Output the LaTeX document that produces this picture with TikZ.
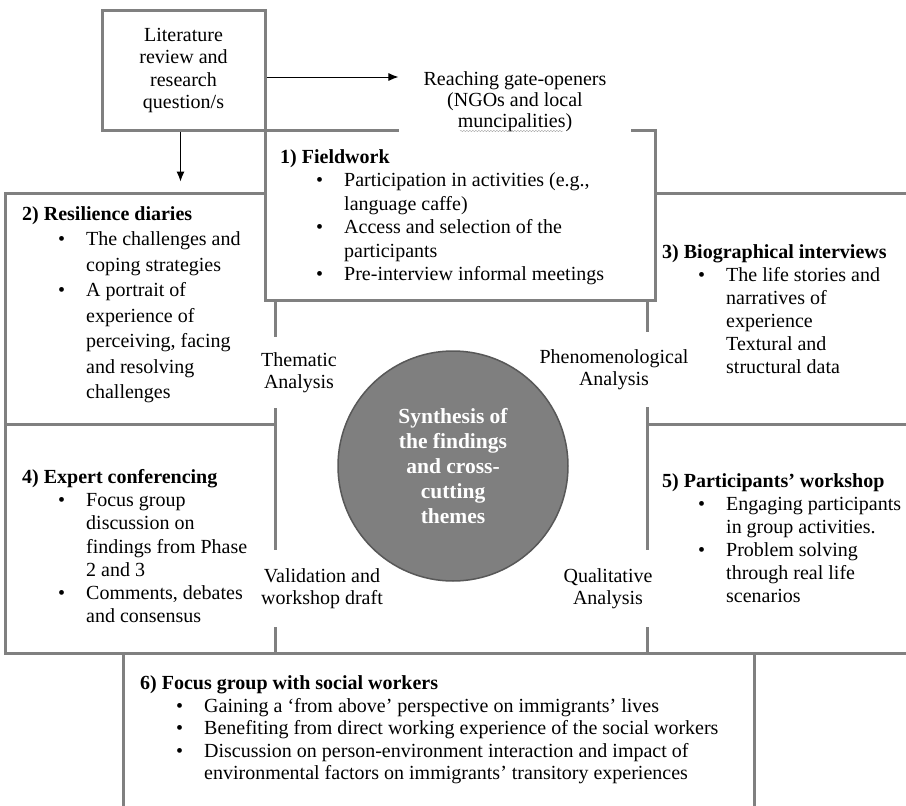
\documentclass[tikz,border=0pt]{standalone}
\usepackage{fontspec}
\setmainfont{Liberation Serif}
\usetikzlibrary{arrows.meta}
\usetikzlibrary{decorations.pathmorphing}
\definecolor{lgray}{RGB}{128,128,128}
\definecolor{cfill}{RGB}{127,127,127}
\definecolor{cedge}{RGB}{88,88,88}
\tikzset{box/.style = {draw=lgray, line width=3pt, rectangle, inner sep=0pt}}
\tikzset{txt/.style = {anchor=north west, inner sep=0pt, align=left}}
\tikzset{lab/.style = {fill=white, align=center, inner xsep=8pt, inner ysep=0pt,
                       font=\fontsize{20}{22}\selectfont}}
\tikzset{arr/.style = {-{Latex[length=10pt, width=8pt]}, line width=1pt}}
\newcommand{\lfont}[1]{\fontsize{20}{#1}\selectfont}
\newcommand{\pbul}{\hspace*{36pt}\makebox[28pt][l]{\textbullet}}
\newcommand{\pcont}{\hspace*{64pt}}

\begin{document}
\begin{tikzpicture}[x=1pt, y=-1pt]
  \useasboundingbox (0,0) rectangle (906,806);

  % outer boxes
  \node [box, minimum width=270, minimum height=231] (diar) at (140,308.5) {};
  \node [box, minimum width=273, minimum height=231] (bio) at (783.5,308.5) {};
  \node [box, minimum width=270, minimum height=229] (expt) at (140,538.5) {};
  \node [box, minimum width=273, minimum height=229] (wksp) at (783.5,538.5) {};
  \node [box, minimum width=631, minimum height=177] (focus) at (438.5,741.5) {};
  \node [box, fill=white, minimum width=390, minimum height=170] (field) at (460,215) {};
  \node [box, fill=white, minimum width=163, minimum height=120, align=center,
         font=\lfont{22.3}] (lit) at (183.5,70)
        {\\[-8pt]Literature\\review and\\research\\question/s};

  \node [fill=white, align=center, inner xsep=25pt, inner ysep=4pt,
         font=\lfont{21}] (gate) at (515,101.5)
        {Reaching gate-openers\\(NGOs and local\\muncipalities)};
  \draw [decorate, decoration={snake, amplitude=0.7pt, segment length=3pt},
         gray!70] (460,131) -- (563,131);

  % texts
  \node [txt, font=\lfont{23.5}] (fieldtx) at (280,146.5)
        {\strut\textbf{1) Fieldwork}\\
         \pbul Participation in activities (e.g.,\\
         \pcont language caffe)\\
         \pbul Access and selection of the\\
         \pcont participants\\
         \pbul Pre-interview informal meetings};

  \node [txt, font=\lfont{25.5}] (diartx) at (22,202)
        {\strut\textbf{2) Resilience diaries}\\
         \pbul The challenges and\\
         \pcont coping strategies\\
         \pbul A portrait of\\
         \pcont experience of\\
         \pcont perceiving, facing\\
         \pcont and resolving\\
         \pcont challenges};

  \node [txt, font=\lfont{23}] (biotx) at (662,242)
        {\strut\textbf{3) Biographical interviews}\\
         \pbul The life stories and\\
         \pcont narratives of\\
         \pcont experience\\
         \pcont Textural and\\
         \pcont structural data};

  \node [txt, font=\lfont{23.2}] (expttx) at (22,467)
        {\strut\textbf{4) Expert conferencing}\\
         \pbul Focus group\\
         \pcont discussion on\\
         \pcont findings from Phase\\
         \pcont 2 and 3\\
         \pbul Comments, debates\\
         \pcont and consensus};

  \node [txt, font=\lfont{23}] (wksptx) at (662,471)
        {\strut\textbf{5) Participants’ workshop}\\
         \pbul Engaging participants\\
         \pcont in group activities.\\
         \pbul Problem solving\\
         \pcont through real life\\
         \pcont scenarios};

  \node [txt, font=\lfont{22.5}] (focustx) at (140,674)
        {\strut\textbf{6) Focus group with social workers}\\
         \pbul Gaining a ‘from above’ perspective on immigrants’ lives\\
         \pbul Benefiting from direct working experience of the social workers\\
         \pbul Discussion on person-environment interaction and impact of\\
         \pcont environmental factors on immigrants’ transitory experiences};

  % analysis labels on the lines
  \node [lab, minimum height=71] (them) at (299,372.5) {Thematic\\Analysis};
  \node [lab, minimum height=75] (phen) at (614,369.5) {Phenomenological\\Analysis};
  \node [lab, inner xsep=14pt, minimum height=77] (vali) at (322,588.5)
        {Validation and\\workshop draft};
  \node [lab, minimum height=77] (qual) at (608,588.5) {Qualitative\\Analysis};

  \node [circle, fill=cfill, draw=cedge, line width=1.5pt, minimum size=230,
         text=white, align=center, font=\fontsize{21.5}{25}\selectfont\bfseries]
        (syn) at (453,466)
        {Synthesis of\\the findings\\and cross-\\cutting\\themes};

  \draw [arr] ([yshift=-7pt]lit.east) -- ([yshift=-7pt]lit.east -| gate.west);
  \draw [arr] ([xshift=-3pt]lit.south) -- ([xshift=-3pt, yshift=10pt]lit.south |- diar.north);
\end{tikzpicture}
\end{document}
